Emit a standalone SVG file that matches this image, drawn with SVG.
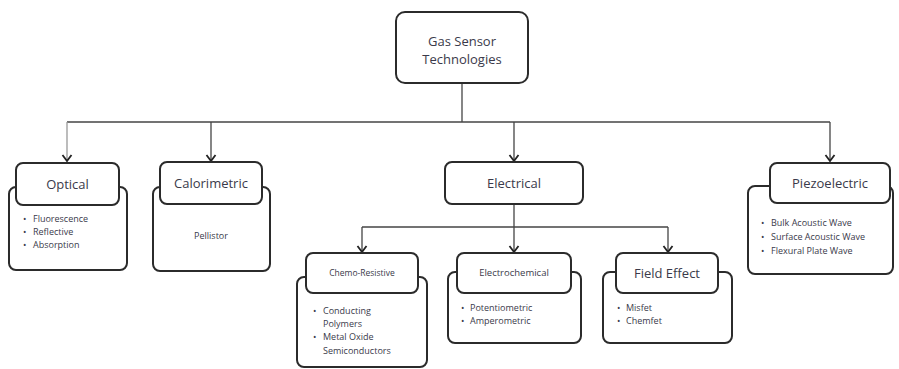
<svg xmlns="http://www.w3.org/2000/svg" width="899" height="369" viewBox="0 0 899 369">
<style>
.box{fill:#fff;stroke:#2b2b2b;stroke-width:2}
.hd{fill:#fff;stroke:#2b2b2b;stroke-width:2}
.ln{fill:none;stroke:#444;stroke-width:1.3}
.t{font-family:"Open Sans","Noto Sans",sans-serif;fill:#3a3a4a;text-anchor:middle}
.b{font-family:"Open Sans","Noto Sans",sans-serif;fill:#3a3a4a;font-size:9px}
.big{font-size:13px}
.sm{font-size:8.5px}
</style>
<defs>
<marker id="arr" viewBox="0 0 12 12" refX="11" refY="6" markerWidth="12" markerHeight="12" markerUnits="userSpaceOnUse" orient="auto">
<path d="M5,1.5 L11,6 L5,10.5" fill="none" stroke="#222" stroke-width="1.8"/>
</marker>
</defs>
<g id="connectors">
<path class="ln" d="M462,83 V122"/>
<path class="ln" d="M67,122 H830"/>
<path class="ln" d="M67,122 V161" marker-end="url(#arr)" style="stroke:#999"/>
<path class="ln" d="M211,122 V161" marker-end="url(#arr)"/>
<path class="ln" d="M514,122 V161" marker-end="url(#arr)"/>
<path class="ln" d="M830,122 V161" marker-end="url(#arr)"/>
<path class="ln" d="M514,204 V227"/>
<path class="ln" d="M362,227 H668"/>
<path class="ln" d="M362,227 V252" marker-end="url(#arr)"/>
<path class="ln" d="M514,227 V252" marker-end="url(#arr)"/>
<path class="ln" d="M668,227 V252" marker-end="url(#arr)"/>
</g>
<g id="root">
<rect class="hd" x="396" y="12" width="132" height="71" rx="9"/>
<text class="t big" x="462" y="46">Gas Sensor</text>
<text class="t big" x="462" y="64">Technologies</text>
</g>
<g id="optical">
<rect class="box" x="9" y="187" width="118" height="83" rx="7"/>
<rect class="hd" x="16" y="163" width="103" height="42" rx="7"/>
<text class="t big" x="67.5" y="189">Optical</text>
<text class="b" y="222"><tspan x="23">•</tspan><tspan x="33">Fluorescence</tspan></text>
<text class="b" y="235"><tspan x="23">•</tspan><tspan x="33">Reflective</tspan></text>
<text class="b" y="248"><tspan x="23">•</tspan><tspan x="33">Absorption</tspan></text>
</g>
<g id="calorimetric">
<rect class="box" x="153" y="187" width="117" height="84" rx="7"/>
<rect class="hd" x="160" y="162" width="102" height="42" rx="7"/>
<text class="t big" x="211" y="188">Calorimetric</text>
<text class="t" style="font-size:9px" x="211" y="239">Pellistor</text>
</g>
<g id="electrical">
<rect class="hd" x="445" y="162" width="138" height="42" rx="7"/>
<text class="t big" x="514" y="188">Electrical</text>
</g>
<g id="piezoelectric">
<rect class="box" x="748" y="186" width="145" height="88" rx="7"/>
<rect class="hd" x="770" y="163" width="120" height="40" rx="7"/>
<text class="t big" x="830" y="188">Piezoelectric</text>
<text class="b" y="226"><tspan x="761">•</tspan><tspan x="771">Bulk Acoustic Wave</tspan></text>
<text class="b" y="240"><tspan x="761">•</tspan><tspan x="771">Surface Acoustic Wave</tspan></text>
<text class="b" y="254"><tspan x="761">•</tspan><tspan x="771">Flexural Plate Wave</tspan></text>
</g>
<g id="chemo-resistive">
<rect class="box" x="297" y="277" width="130" height="90" rx="7"/>
<rect class="hd" x="306" y="253" width="112" height="40" rx="7"/>
<text class="t sm" x="362" y="276">Chemo-Resistive</text>
<text class="b" y="314"><tspan x="313">•</tspan><tspan x="323">Conducting</tspan></text>
<text class="b" x="323" y="327">Polymers</text>
<text class="b" y="340"><tspan x="313">•</tspan><tspan x="323">Metal Oxide</tspan></text>
<text class="b" x="323" y="354">Semiconductors</text>
</g>
<g id="electrochemical">
<rect class="box" x="448" y="272" width="133" height="71" rx="7"/>
<rect class="hd" x="457" y="253" width="114" height="40" rx="7"/>
<text class="t" style="font-size:9.5px" x="514" y="276">Electrochemical</text>
<text class="b" y="311"><tspan x="461">•</tspan><tspan x="470">Potentiometric</tspan></text>
<text class="b" y="324"><tspan x="461">•</tspan><tspan x="470">Amperometric</tspan></text>
</g>
<g id="field-effect">
<rect class="box" x="603" y="272" width="129" height="71" rx="7"/>
<rect class="hd" x="616" y="253" width="102" height="40" rx="7"/>
<text class="t big" x="667" y="278">Field Effect</text>
<text class="b" y="311"><tspan x="617">•</tspan><tspan x="626">Misfet</tspan></text>
<text class="b" y="324"><tspan x="617">•</tspan><tspan x="626">Chemfet</tspan></text>
</g>
</svg>
